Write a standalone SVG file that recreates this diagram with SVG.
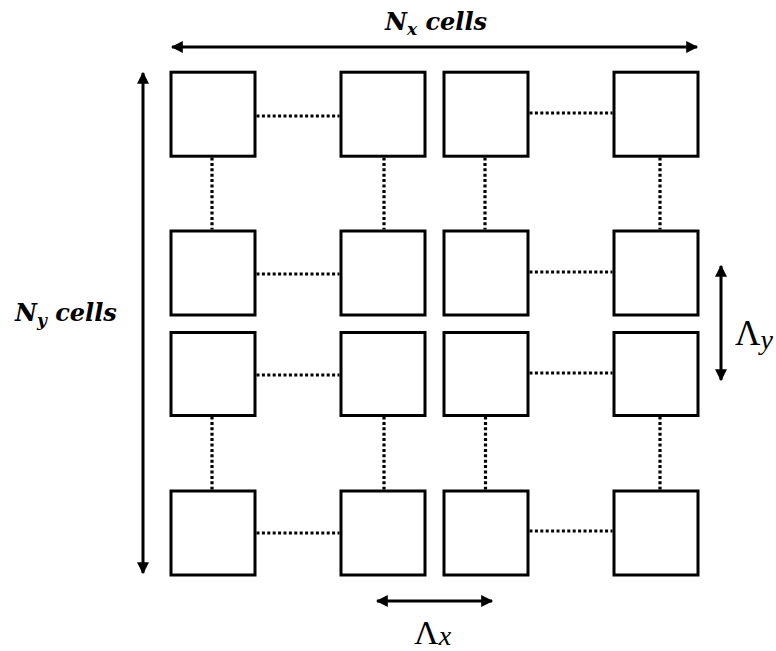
<svg xmlns="http://www.w3.org/2000/svg" width="776" height="651" viewBox="0 0 776 651">
<style>
.cell{fill:#fff;stroke:#000;stroke-width:3}
.dot{stroke:#000;stroke-width:3.2;stroke-dasharray:3 2.4;fill:none}
.arr{stroke:#000;stroke-width:3;fill:none}
.lbl{font-family:"DejaVu Serif","Liberation Serif",serif;font-weight:bold;font-style:italic;fill:#000}
.lam{font-family:"Liberation Serif","DejaVu Serif",serif;fill:#000}
</style>
<defs>
<marker id="ah" viewBox="0 0 10 10" refX="9" refY="5" markerWidth="4.2" markerHeight="4" orient="auto-start-reverse" markerUnits="strokeWidth">
<path d="M0,0 L10,5 L0,10 Z" fill="#000"/>
</marker>
</defs>
<rect width="776" height="651" fill="#fff"/>
<g id="connectors">
<line class="dot" x1="256.5" y1="116" x2="339.5" y2="116"/>
<line class="dot" x1="529.5" y1="113" x2="612.5" y2="113"/>
<line class="dot" x1="256.5" y1="274" x2="339.5" y2="274"/>
<line class="dot" x1="529.5" y1="272" x2="612.5" y2="272"/>
<line class="dot" x1="256.5" y1="375" x2="339.5" y2="375"/>
<line class="dot" x1="529.5" y1="373" x2="612.5" y2="373"/>
<line class="dot" x1="256.5" y1="533" x2="339.5" y2="533"/>
<line class="dot" x1="529.5" y1="531" x2="612.5" y2="531"/>
<line class="dot" x1="212" y1="157.5" x2="212" y2="229.5"/>
<line class="dot" x1="384" y1="157.5" x2="384" y2="229.5"/>
<line class="dot" x1="485" y1="157.5" x2="485" y2="229.5"/>
<line class="dot" x1="660" y1="157.5" x2="660" y2="229.5"/>
<line class="dot" x1="212" y1="416.5" x2="212" y2="489.5"/>
<line class="dot" x1="384" y1="416.5" x2="384" y2="489.5"/>
<line class="dot" x1="485.5" y1="416.5" x2="485.5" y2="489.5"/>
<line class="dot" x1="660" y1="416.5" x2="660" y2="489.5"/>
<line class="arr" x1="172" y1="47" x2="697" y2="47" marker-start="url(#ah)" marker-end="url(#ah)"/>
<line class="arr" x1="143" y1="73" x2="143" y2="573" marker-start="url(#ah)" marker-end="url(#ah)"/>
<line class="arr" x1="721" y1="266" x2="721" y2="380" marker-start="url(#ah)" marker-end="url(#ah)"/>
<line class="arr" x1="377" y1="601" x2="492" y2="601" marker-start="url(#ah)" marker-end="url(#ah)"/>
</g>
<g id="r1c1"><rect class="cell" x="171" y="72.2" width="84" height="84"/></g>
<g id="r1c2"><rect class="cell" x="341" y="72.2" width="84" height="84"/></g>
<g id="r1c3"><rect class="cell" x="444" y="72.2" width="84" height="84"/></g>
<g id="r1c4"><rect class="cell" x="614" y="72.2" width="84" height="84"/></g>
<g id="r2c1"><rect class="cell" x="171" y="231" width="84" height="84"/></g>
<g id="r2c2"><rect class="cell" x="341" y="231" width="84" height="84"/></g>
<g id="r2c3"><rect class="cell" x="444" y="231" width="84" height="84"/></g>
<g id="r2c4"><rect class="cell" x="614" y="231" width="84" height="84"/></g>
<g id="r3c1"><rect class="cell" x="171" y="332.5" width="84" height="83"/></g>
<g id="r3c2"><rect class="cell" x="341" y="332.5" width="84" height="83"/></g>
<g id="r3c3"><rect class="cell" x="444" y="332.5" width="84" height="83"/></g>
<g id="r3c4"><rect class="cell" x="614" y="332.5" width="84" height="83"/></g>
<g id="r4c1"><rect class="cell" x="171" y="491" width="84" height="84"/></g>
<g id="r4c2"><rect class="cell" x="341" y="491" width="84" height="84"/></g>
<g id="r4c3"><rect class="cell" x="444" y="491" width="84" height="84"/></g>
<g id="r4c4"><rect class="cell" x="614" y="491" width="84" height="84"/></g>
<g id="labels">
<text class="lbl" x="385" y="30" font-size="24">N<tspan font-size="17" dy="5">x</tspan><tspan dy="-5"> cells</tspan></text>
<text class="lbl" x="15" y="321" font-size="24">N<tspan font-size="17" dy="5">y</tspan><tspan dy="-5"> cells</tspan></text>
<text class="lam" x="735" y="345" font-size="35">Λ<tspan font-style="italic" font-size="28" dy="4">y</tspan></text>
<text class="lam" x="414" y="644" font-size="34">Λ<tspan font-style="italic" font-size="28" dy="1">x</tspan></text>
</g>
</svg>
